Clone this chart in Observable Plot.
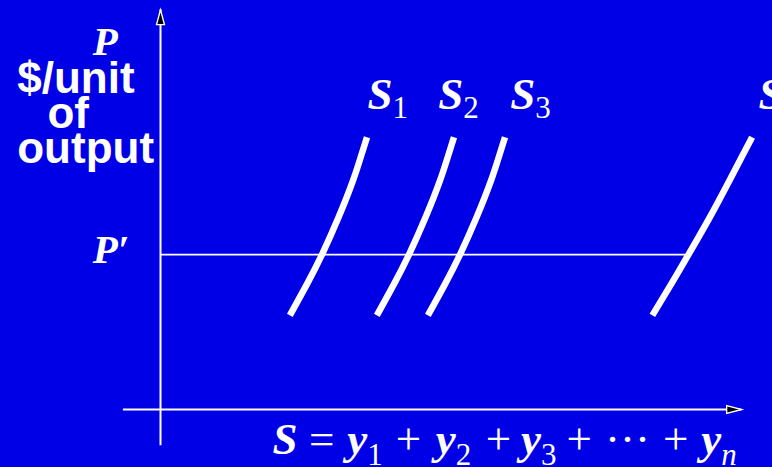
<!DOCTYPE html>
<html><head><meta charset="utf-8">
<script src="https://cdn.jsdelivr.net/npm/d3@7"></script>
<script src="https://cdn.jsdelivr.net/npm/@observablehq/plot@0.6"></script>
<style>
html,body{margin:0;padding:0;background:#0000e6;overflow:hidden}
#chart svg{display:block}
</style></head><body><div id="chart"></div>
<script>
// ---- data (price P in arbitrary units 0–100, quantity in arbitrary units 0–100)
const prices = [23.7, 31.7, 39.2, 48.4, 57.7, 64.4, 68.6];
const firm1  = [22.3, 25.3, 27.9, 30.7, 33.2, 34.7, 35.6];
const firm2  = [37.3, 40.3, 42.9, 45.7, 48.2, 49.7, 50.6];
const firm3  = [46.1, 49.1, 51.7, 54.5, 57.0, 58.5, 59.4];
const firmN  = [84.8, 88.1, 91.1, 94.7, 98.1, 100.5, 102.0];
const curveNames = ["S_{1}", "S_{2}", "S_{3}", "S_{n}"];
const labelQ = [35.7, 47.9, 60.3, 103.1];
const labelP = 75.8;
const pPrime = 39.0;
const pPrimeEnd = 91.1;
const xAxisExtent = [-6.4, 100.2];
const yAxisExtent = [-9.1, 100.7];
const yTitleLines = ["$/unit", "of", "output"];
const yTitleQ = [-24.7, -19.5, -24.7];
const yTitleP = [79.8, 71.0, 62.2];
const formula = "S = y_{1} + y_{2} + y_{3} + ··· + y_{n}";

// ---- tables built from the arrays
const curves = [firm1, firm2, firm3, firmN].flatMap((qs, k) =>
  qs.map((q, i) => ({firm: curveNames[k], q, p: prices[i]})));
const labels = curveNames.map((name, k) => ({name, q: labelQ[k], p: labelP}));
const yTitle = yTitleLines.map((t, i) => ({t, q: yTitleQ[i], p: yTitleP[i]}));
const arrows = [
  {q: 0, p: yAxisExtent[1], rot: 0},
  {q: xAxisExtent[1], p: 0, rot: 90}
];

const arrowHead = {draw(ctx) { ctx.moveTo(0, 0); ctx.lineTo(4, 15); ctx.lineTo(-4, 15); ctx.closePath(); }};
const serif = "'Liberation Serif', 'Times New Roman', serif";
const sans = "'Liberation Sans', Arial, sans-serif";

const chart = Plot.plot({
  width: 772, height: 467,
  marginLeft: 160, marginRight: 32, marginTop: 12, marginBottom: 58,
  x: {domain: [0, 100], axis: null},
  y: {domain: [0, 100], axis: null},
  style: {background: "#0000e6", color: "white", overflow: "visible"},
  marks: [
    Plot.ruleX([0], {y1: yAxisExtent[0], y2: yAxisExtent[1], stroke: "white", strokeWidth: 2}),
    Plot.ruleY([0], {x1: xAxisExtent[0], x2: xAxisExtent[1], stroke: "white", strokeWidth: 2}),
    Plot.ruleY([pPrime], {x1: 0, x2: pPrimeEnd, stroke: "white", strokeWidth: 1.6}),
    Plot.line(curves, {x: "q", y: "p", z: "firm", curve: "natural", stroke: "white",
      strokeWidth: 6.5, strokeLinecap: "butt"}),
    Plot.dot(arrows, {x: "q", y: "p", rotate: "rot", symbol: arrowHead, fill: "black",
      stroke: "white", strokeWidth: 1.3}),
    Plot.text(labels, {x: "q", y: "p", text: "name", textAnchor: "start", lineAnchor: "bottom",
      fontSize: 45, fontFamily: serif, fill: "white"}),
    Plot.text([formula], {x: 19.3, y: -11.1, text: d => d, textAnchor: "start", lineAnchor: "bottom",
      fontSize: 45, fontFamily: serif, fill: "white"}),
    Plot.text(["P"], {x: -11.7, y: 89.2, text: d => d, textAnchor: "start", lineAnchor: "bottom",
      fontSize: 41, fontFamily: serif, fontStyle: "italic", fontWeight: "bold", fill: "white"}),
    Plot.text(["P′"], {x: -11.7, y: 37.0, text: d => d, textAnchor: "start", lineAnchor: "bottom",
      fontSize: 41, fontFamily: serif, fontStyle: "italic", fontWeight: "bold", fill: "white"}),
    Plot.text(yTitle, {x: "q", y: "p", text: "t", textAnchor: "start", lineAnchor: "bottom",
      fontSize: 44, fontFamily: sans, fontWeight: "bold", fill: "white"})
  ]
});
document.getElementById("chart").appendChild(chart);

// ---- render "X_{sub}" markup as math-style tspans
const NS = "http://www.w3.org/2000/svg";
function richify(text, {subSize, subShift, gaps}) {
  const tokens = text.textContent.split(" ");
  text.textContent = "";
  let shifted = false;
  tokens.forEach((tok, i) => {
    const m = tok.match(/^([^_]+)(?:_\{(.+)\})?$/);
    const isVar = /^[A-Za-z]+$/.test(m[1]);
    const main = document.createElementNS(NS, "tspan");
    main.textContent = m[1];
    main.setAttribute("font-style", isVar ? "italic" : "normal");
    main.setAttribute("font-weight", isVar ? "bold" : "normal");
    if (i > 0) main.setAttribute("dx", gaps[i - 1] ?? 10);
    if (shifted) { main.setAttribute("dy", -subShift); shifted = false; }
    text.appendChild(main);
    if (m[2]) {
      const sub = document.createElementNS(NS, "tspan");
      sub.textContent = m[2];
      sub.setAttribute("font-size", subSize);
      sub.setAttribute("font-style", /^[0-9]+$/.test(m[2]) ? "normal" : "italic");
      sub.setAttribute("font-weight", "normal");
      sub.setAttribute("dy", subShift);
      text.appendChild(sub);
      shifted = true;
    }
  });
}
const labelCfg = {subSize: 31, subShift: 9, gaps: []};
const formulaCfg = {subSize: 31, subShift: 11, gaps: [11.5, 13, 13, 14.5, 14.5, 10, 10, 13, 13, 13]};
chart.querySelectorAll("text").forEach(t => {
  const s = t.textContent;
  if (s.includes("_{")) richify(t, s.includes(" ") ? formulaCfg : labelCfg);
});
</script></body></html>
